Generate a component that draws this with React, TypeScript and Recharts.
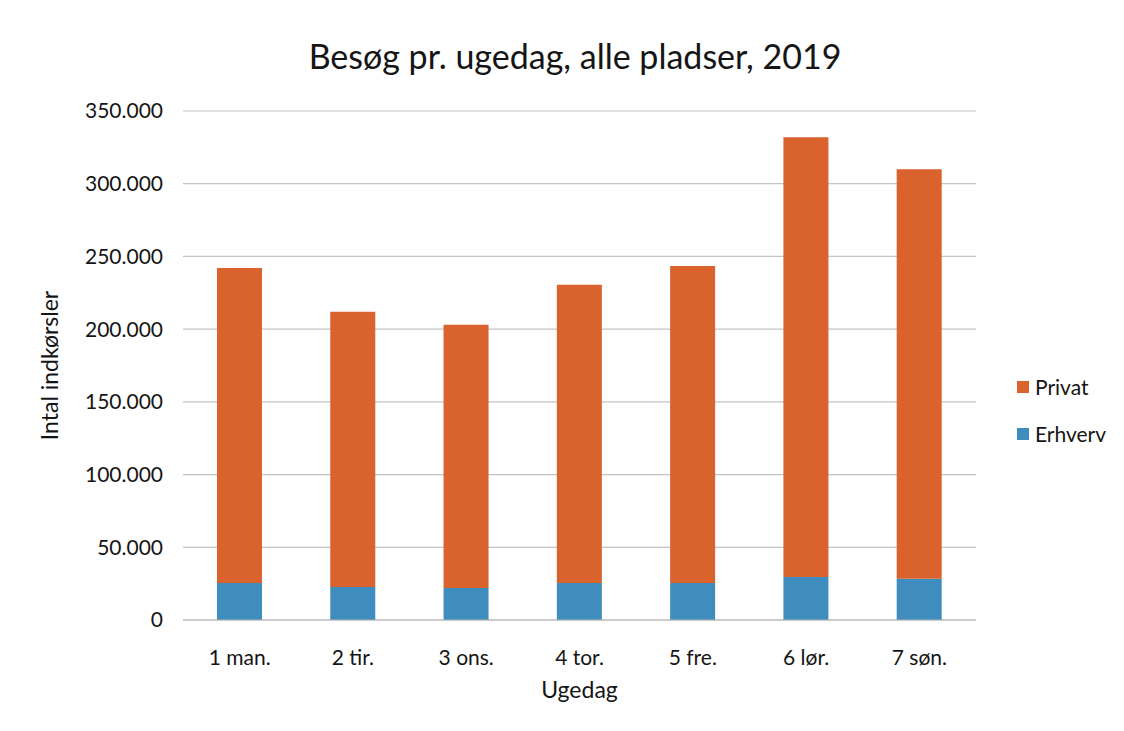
import React from 'react';
import { BarChart, Bar, XAxis, YAxis, CartesianGrid, Label } from 'recharts';

const categories = ['1 man.', '2 tir.', '3 ons.', '4 tor.', '5 fre.', '6 lør.', '7 søn.'];
const erhverv = [25500, 22700, 22000, 25500, 25500, 29600, 28300];
const privat = [216500, 189300, 181000, 205000, 218000, 302400, 281700];
const yTicks = [0, 50000, 100000, 150000, 200000, 250000, 300000, 350000];

const data = categories.map((c, i) => ({ name: c, Erhverv: erhverv[i], Privat: privat[i] }));

const ORANGE = '#D9622D';
const BLUE = '#3F8DBF';
const FONT = 'Lato, "Open Sans", sans-serif';
const TEXT = '#151515';

const fmt = (v: number) => String(v).replace(/\B(?=(\d{3})+(?!\d))/g, '.');

export default function App() {
  return (
    <div style={{ position: 'absolute', left: 0, top: 0, width: 1124, height: 731, background: '#fff', fontFamily: FONT }}>
      <div style={{ position: 'absolute', left: 0, width: 1150, top: 35, textAlign: 'center', fontSize: 34, color: TEXT }}>
        Besøg pr. ugedag, alle pladser, 2019
      </div>
      <BarChart
        width={1124}
        height={731}
        data={data}
        margin={{ top: 111, right: 148, bottom: 27, left: 0 }}
        barCategoryGap="30%"
      >
        <CartesianGrid vertical={false} stroke="#c4c4c4" strokeWidth={1.2} />
        <XAxis
          dataKey="name"
          height={84}
          axisLine={{ stroke: '#b5b5b5' }}
          tickLine={false}
          tickMargin={24}
          tick={{ fill: TEXT, fontSize: 21, fontFamily: FONT }}
        >
          <Label value="Ugedag" position="insideBottom" offset={6} style={{ fill: TEXT, fontSize: 23, fontFamily: FONT }} />
        </XAxis>
        <YAxis
          width={183}
          domain={[0, 350000]}
          ticks={yTicks}
          tickFormatter={fmt}
          axisLine={false}
          tickLine={false}
          tickMargin={14}
          tick={{ fill: TEXT, fontSize: 21, fontFamily: FONT }}
        >
          <Label
            value="Intal indkørsler"
            angle={-90}
            position="insideLeft"
            offset={50}
            style={{ fill: TEXT, fontSize: 23, fontFamily: FONT, textAnchor: 'middle' }}
          />
        </YAxis>
        <Bar dataKey="Erhverv" stackId="a" fill={BLUE} isAnimationActive={false} />
        <Bar dataKey="Privat" stackId="a" fill={ORANGE} isAnimationActive={false} />
      </BarChart>
      <div style={{ position: 'absolute', left: 1017, top: 374, fontSize: 21, color: TEXT, lineHeight: '26px' }}>
        <div style={{ display: 'flex', alignItems: 'center', marginBottom: 21 }}>
          <span style={{ display: 'inline-block', width: 12, height: 12, background: ORANGE, marginRight: 6 }} />
          Privat
        </div>
        <div style={{ display: 'flex', alignItems: 'center' }}>
          <span style={{ display: 'inline-block', width: 12, height: 12, background: BLUE, marginRight: 6 }} />
          Erhverv
        </div>
      </div>
    </div>
  );
}
